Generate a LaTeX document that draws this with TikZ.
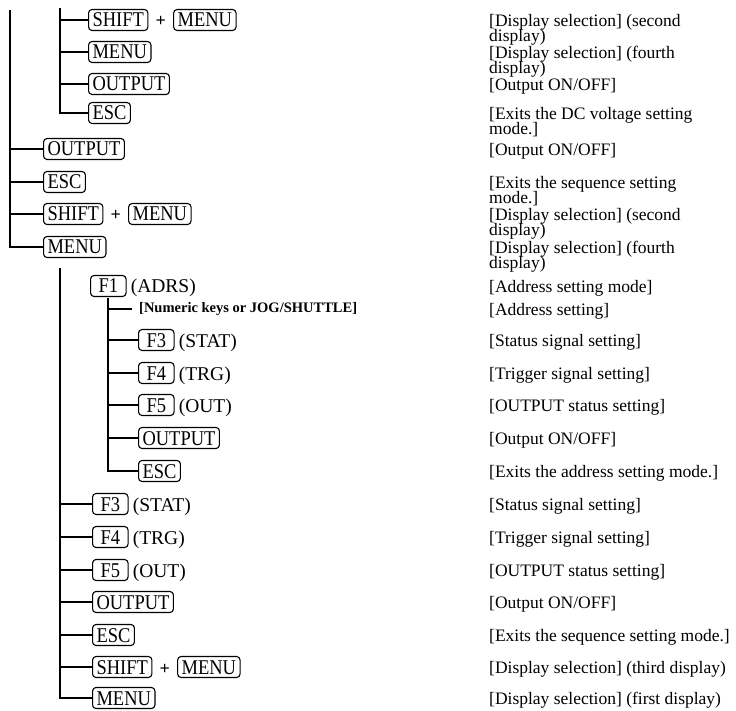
\documentclass[tikz,border=0pt]{standalone}
\usepackage{fontspec}
\setmainfont{Liberation Serif}
\newfontfamily\keyfont[FakeStretch=0.88]{Liberation Serif}
\usetikzlibrary{positioning}
\newcommand{\mytwol}[2]{\vtop{\baselineskip=15pt\lineskiplimit=-20pt\hbox{#1}\hbox{#2}}}
\tikzset{
  key/.style={draw, line width=1.1pt, rounded corners=3.5pt,
    font=\keyfont\fontsize{21}{21}\selectfont, inner xsep=4pt, inner ysep=3pt,
    text height=14.5pt, text depth=0.5pt, anchor=west},
  fkey/.style={key, inner xsep=8pt},
  lbl/.style={font=\fontsize{19.5}{19.5}\selectfont, inner sep=0pt, anchor=base west},
  plus/.style={font=\bfseries\fontsize{18}{18}\selectfont, inner sep=0pt, anchor=base west},
  desc/.style={font=\fontsize{17.5}{15}\selectfont, inner sep=0pt, anchor=base west},
  numtxt/.style={font=\bfseries\fontsize{14.5}{14.5}\selectfont, inner xsep=7pt, inner ysep=0pt, anchor=west},
  tree/.style={line width=1.3pt}
}
\begin{document}
\begin{tikzpicture}[x=1pt,y=-1pt]
\useasboundingbox (0,0) rectangle (736,711);
% ---------- top group ----------
\node[key] (s1) at (88,20) {SHIFT};
\node[plus] (p1) at ([xshift=7pt]s1.base east) {+};
\node[key, anchor=base west] (m1) at ([xshift=7pt]p1.base east) {MENU};
\node[key] (k2) at (88,52) {MENU};
\node[key] (k3) at (88,84) {OUTPUT};
\node[key] (k4) at (88,113) {ESC};
% ---------- level 1 ----------
\node[key] (k5) at (43,149) {OUTPUT};
\node[key] (k6) at (43,182) {ESC};
\node[key] (s7) at (43,214) {SHIFT};
\node[plus] (p7) at ([xshift=7pt]s7.base east) {+};
\node[key, anchor=base west] (m7) at ([xshift=7pt]p7.base east) {MENU};
\node[key] (k8) at (43,247) {MENU};
% ---------- F1 sub-mode ----------
\node[fkey] (f1) at (90,286) {F1};
\node[lbl] (f1l) at ([xshift=4pt]f1.base east) {(ADRS)};
\node[numtxt] (num) at (132,309) {[Numeric keys or JOG/SHUTTLE]};
\node[fkey] (f3a) at (138,340) {F3};
\node[lbl] (f3al) at ([xshift=4pt]f3a.base east) {(STAT)};
\node[fkey] (f4a) at (138,373) {F4};
\node[lbl] (f4al) at ([xshift=4pt]f4a.base east) {(TRG)};
\node[fkey] (f5a) at (138,405) {F5};
\node[lbl] (f5al) at ([xshift=4pt]f5a.base east) {(OUT)};
\node[key] (k14) at (138,438) {OUTPUT};
\node[key] (k15) at (138,471) {ESC};
% ---------- level 2 ----------
\node[fkey] (f3b) at (92,504) {F3};
\node[lbl] (f3bl) at ([xshift=4pt]f3b.base east) {(STAT)};
\node[fkey] (f4b) at (92,537) {F4};
\node[lbl] (f4bl) at ([xshift=4pt]f4b.base east) {(TRG)};
\node[fkey] (f5b) at (92,570) {F5};
\node[lbl] (f5bl) at ([xshift=4pt]f5b.base east) {(OUT)};
\node[key] (k19) at (92,602) {OUTPUT};
\node[key] (k20) at (92,635) {ESC};
\node[key] (s21) at (92,667) {SHIFT};
\node[plus] (p21) at ([xshift=7pt]s21.base east) {+};
\node[key, anchor=base west] (m21) at ([xshift=7pt]p21.base east) {MENU};
\node[key] (k22) at (92,698) {MENU};
% ---------- trunks ----------
\coordinate (t0) at (10,10);
\coordinate (t1) at (60,8);
\coordinate (t2) at (60,268);
\coordinate (t3) at (108,298);
\draw[tree] (t1) |- (k4.west);
\foreach \n in {s1,k2,k3} \draw[tree] (t1 |- \n.west) -- (\n.west);
\draw[tree] (t0) |- (k8.west);
\foreach \n in {k5,k6,s7} \draw[tree] (t0 |- \n.west) -- (\n.west);
\draw[tree] (t2) |- (k22.west);
\foreach \n in {f3b,f4b,f5b,k19,k20,s21} \draw[tree] (t2 |- \n.west) -- (\n.west);
\draw[tree] (t3) |- (k15.west);
\foreach \n in {num,f3a,f4a,f5a,k14} \draw[tree] (t3 |- \n.west) -- (\n.west);
% ---------- descriptions ----------
\node[desc] (d1) at (489,26.5) {\mytwol{[Display selection] (second}{display)}};
\node[desc] (d2) at (489,58.5) {\mytwol{[Display selection] (fourth}{display)}};
\node[desc] (d3) at (489,90.5) {[Output ON/OFF]};
\node[desc] (d4) at (489,119.5) {\mytwol{[Exits the DC voltage setting}{mode.]}};
\node[desc] (d5) at (489,155.5) {[Output ON/OFF]};
\node[desc] (d6) at (489,188.5) {\mytwol{[Exits the sequence setting}{mode.]}};
\node[desc] (d7) at (489,220.5) {\mytwol{[Display selection] (second}{display)}};
\node[desc] (d8) at (489,253.5) {\mytwol{[Display selection] (fourth}{display)}};
\node[desc] (d9) at (489,292.5) {[Address setting mode]};
\node[desc] (d10) at (489,315.5) {[Address setting]};
\node[desc] (d11) at (489,346.5) {[Status signal setting]};
\node[desc] (d12) at (489,379.5) {[Trigger signal setting]};
\node[desc] (d13) at (489,411.5) {[OUTPUT status setting]};
\node[desc] (d14) at (489,444.5) {[Output ON/OFF]};
\node[desc] (d15) at (489,477.5) {[Exits the address setting mode.]};
\node[desc] (d16) at (489,510.5) {[Status signal setting]};
\node[desc] (d17) at (489,543.5) {[Trigger signal setting]};
\node[desc] (d18) at (489,576.5) {[OUTPUT status setting]};
\node[desc] (d19) at (489,608.5) {[Output ON/OFF]};
\node[desc] (d20) at (489,641.5) {[Exits the sequence setting mode.]};
\node[desc] (d21) at (489,673.5) {[Display selection] (third display)};
\node[desc] (d22) at (489,704.5) {[Display selection] (first display)};
\end{tikzpicture}
\end{document}
